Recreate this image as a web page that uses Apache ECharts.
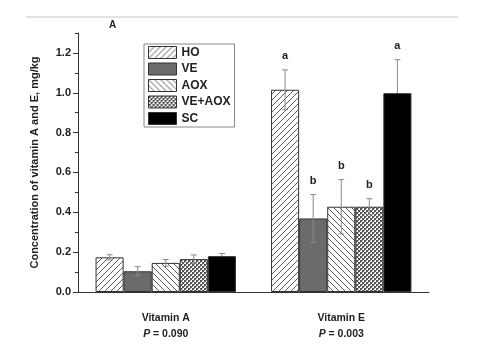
<!DOCTYPE html>
<html>
<head>
<meta charset="utf-8">
<script src="https://cdn.jsdelivr.net/npm/echarts@6/dist/echarts.min.js"></script>
<style>
  html, body { margin: 0; padding: 0; background: #fff; }
  #chart { width: 480px; height: 351px; }
</style>
</head>
<body>
<div id="chart"></div>
<script>
// 数据
const categories = ['Vitamin A', 'Vitamin E']
const pValues = ['0.090', '0.003']
const seriesNames = ['HO', 'VE', 'AOX', 'VE+AOX', 'SC']
const hoMean = [0.174, 1.015]
const veMean = [0.104, 0.369]
const aoxMean = [0.146, 0.428]
const veAoxMean = [0.165, 0.428]
const scMean = [0.180, 0.998]
const hoSd = [0.013, 0.100]
const veSd = [0.023, 0.120]
const aoxSd = [0.017, 0.136]
const veAoxSd = [0.021, 0.040]
const scSd = [0.013, 0.168]
const hoLetters = ['', 'a']
const veLetters = ['', 'b']
const aoxLetters = ['', 'b']
const veAoxLetters = ['', 'b']
const scLetters = ['', 'a']
const majorTicks = [0, 0.2, 0.4, 0.6, 0.8, 1.0, 1.2]
const minorTicks = [0.1, 0.3, 0.5, 0.7, 0.9, 1.1, 1.3]

const means = [hoMean, veMean, aoxMean, veAoxMean, scMean]
const sds = [hoSd, veSd, aoxSd, veAoxSd, scSd]
const letters = [hoLetters, veLetters, aoxLetters, veAoxLetters, scLetters]

// 填充图案
function hatch (dir) {
  const c = document.createElement('canvas')
  c.width = 6; c.height = 6
  const ctx = c.getContext('2d')
  ctx.fillStyle = '#fff'
  ctx.fillRect(0, 0, 6, 6)
  ctx.strokeStyle = '#4a4a4a'
  ctx.lineWidth = 0.9
  ctx.beginPath()
  if (dir > 0) {
    ctx.moveTo(-1, 7); ctx.lineTo(7, -1)
    ctx.moveTo(-4, 4); ctx.lineTo(4, -4)
    ctx.moveTo(2, 10); ctx.lineTo(10, 2)
  } else {
    ctx.moveTo(-1, -1); ctx.lineTo(7, 7)
    ctx.moveTo(-4, 2); ctx.lineTo(4, 10)
    ctx.moveTo(2, -4); ctx.lineTo(10, 4)
  }
  ctx.stroke()
  return { image: c, repeat: 'repeat' }
}
function checker () {
  const c = document.createElement('canvas')
  c.width = 4; c.height = 4
  const ctx = c.getContext('2d')
  ctx.fillStyle = '#fff'
  ctx.fillRect(0, 0, 4, 4)
  ctx.fillStyle = '#555'
  ctx.fillRect(0, 0, 2, 2)
  ctx.fillRect(2, 2, 2, 2)
  ctx.fillStyle = '#999'
  ctx.fillRect(2, 0, 1, 1)
  ctx.fillRect(0, 2, 1, 1)
  return { image: c, repeat: 'repeat' }
}
const fills = [hatch(1), '#6b6b6b', hatch(-1), checker(), '#000']

const font = '"Liberation Sans", Arial, sans-serif'

const series = []
seriesNames.forEach((name, i) => {
  series.push({
    name: name,
    type: 'bar',
    data: means[i],
    barGap: 0,
    barCategoryGap: '20%',
    itemStyle: { color: fills[i], borderColor: '#333', borderWidth: 1 }
  })
})
// 误差线 + 字母
seriesNames.forEach((name, i) => {
  series.push({
    name: 'err-' + name,
    type: 'custom',
    z: i === 4 ? 1 : 5, // SC 黑色柱子盖住下半段
    data: categories.map((c, k) => [k, means[i][k], sds[i][k]]),
    renderItem: function (params, api) {
      const k = api.value(0)
      const m = api.value(1)
      const sd = api.value(2)
      const band = api.size([1, 0])[0]
      const bw = band * 0.8 / 5
      const off = (i - 2) * bw
      const top = api.coord([k, m + sd])
      const bot = api.coord([k, m - sd])
      const x = top[0] + off
      const st = { stroke: '#8a8a8a', lineWidth: 1 }
      const children = [
        { type: 'line', shape: { x1: x, y1: top[1], x2: x, y2: bot[1] }, style: st },
        { type: 'line', shape: { x1: x - 3, y1: top[1], x2: x + 3, y2: top[1] }, style: st },
        { type: 'line', shape: { x1: x - 3, y1: bot[1], x2: x + 3, y2: bot[1] }, style: st }
      ]
      const t = letters[i][params.dataIndex]
      if (t) {
        children.push({
          type: 'text',
          style: {
            text: t, x: x, y: top[1] - 8, align: 'center', verticalAlign: 'bottom',
            font: 'bold 11px ' + font, fill: '#222'
          }
        })
      }
      return { type: 'group', children: children }
    }
  })
})

const chart = echarts.init(document.getElementById('chart'))
chart.setOption({
  animation: false,
  backgroundColor: '#fff',
  grid: { left: 78, right: 51, top: 33, bottom: 59 },
  legend: {
    data: seriesNames,
    orient: 'vertical',
    left: 144,
    top: 44,
    padding: [2, 4, 2, 4],
    icon: 'rect',
    itemWidth: 28,
    itemHeight: 12,
    itemGap: 3.5,
    itemStyle: { borderColor: '#333', borderWidth: 1 },
    borderColor: '#888',
    borderWidth: 1,
    textStyle: { fontFamily: font, fontWeight: 'bold', fontSize: 12, color: '#222', padding: [0, 5, 0, 0] }
  },
  graphic: [
    { type: 'line', shape: { x1: 26, y1: 17, x2: 458, y2: 17 }, style: { stroke: '#c4c4c4', lineWidth: 1 } },
    { type: 'text', left: 109, top: 20, style: { text: 'A', font: 'bold 10px ' + font, fill: '#222' } }
  ],
  xAxis: [
    {
      type: 'category',
      data: categories,
      position: 'bottom',
      axisLine: { lineStyle: { color: '#333', width: 1 } },
      axisTick: { alignWithLabel: true, length: 5, lineStyle: { color: '#333' } },
      axisLabel: {
        margin: 18,
        lineHeight: 16,
        formatter: (v, idx) => '{b|' + v + '}\n{i|P}{b| = ' + pValues[idx] + '}',
        rich: {
          b: { fontFamily: font, fontWeight: 'bold', fontSize: 10.5, color: '#222' },
          i: { fontFamily: font, fontWeight: 'bold', fontStyle: 'italic', fontSize: 10.5, color: '#222' }
        }
      }
    },
    {
      type: 'category',
      data: categories,
      position: 'bottom',
      axisLine: { show: false },
      axisTick: { length: 3, lineStyle: { color: '#333' } },
      axisLabel: { show: false }
    }
  ],
  yAxis: [
    {
      type: 'value',
      min: 0,
      max: 1.3,
      position: 'left',
      name: 'Concentration of vitamin A and E, mg/kg',
      nameLocation: 'middle',
      nameGap: 38,
      nameTextStyle: { fontFamily: font, fontWeight: 'bold', fontSize: 11, color: '#222' },
      axisLine: { show: true, lineStyle: { color: '#333', width: 1 } },
      axisTick: { show: true, length: 5, customValues: majorTicks, lineStyle: { color: '#333' } },
      axisLabel: {
        customValues: majorTicks,
        margin: 7,
        formatter: v => v.toFixed(1),
        fontFamily: font, fontWeight: 'bold', fontSize: 11, color: '#222'
      },
      splitLine: { show: false }
    },
    {
      type: 'value',
      min: 0,
      max: 1.3,
      position: 'left',
      axisLine: { show: false },
      axisTick: { show: true, length: 3, customValues: minorTicks, lineStyle: { color: '#333' } },
      axisLabel: { show: false },
      splitLine: { show: false }
    }
  ],
  series: series
})
</script>
</body>
</html>
